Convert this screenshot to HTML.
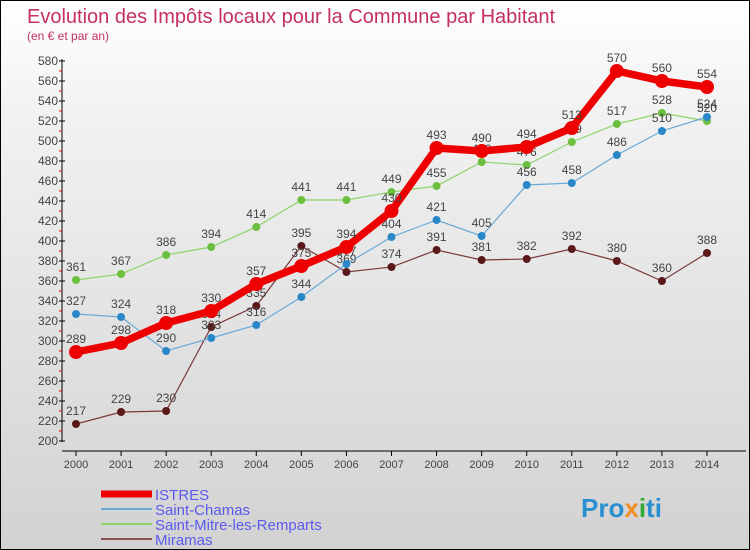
<!DOCTYPE html>
<html><head><meta charset="utf-8"><style>
body{margin:0}
#c{width:750px;height:550px;position:relative;box-sizing:border-box;border:1px solid #000;background:linear-gradient(#fff,#f2f2f2 20%,#d2d2d2);font-family:"Liberation Sans",sans-serif;overflow:hidden}
</style></head><body>
<div id="c">
<svg id="s" width="750" height="550" style="position:absolute;left:0;top:0">
<text x="26" y="22" font-size="20" fill="#c43060">Evolution des Impôts locaux pour la Commune par Habitant</text>
<text x="26" y="39" font-size="12" fill="#c43060">(en € et par an)</text>
<g id="axes"></g><g id="series"></g>
<text x="580" y="516" font-size="26" font-weight="bold" fill="#2a8fd0">Pro<tspan fill="#f09020">x</tspan><tspan fill="#3a3">i</tspan>ti</text>
</svg>
</div>
<script>
const years=[2000,2001,2002,2003,2004,2005,2006,2007,2008,2009,2010,2011,2012,2013,2014];
const istres=[289,298,318,330,357,375,394,430,493,490,494,513,570,560,554];
const chamas=[327,324,290,303,316,344,377,404,421,405,456,458,486,510,524];
const mitre=[361,367,386,394,414,441,441,449,455,479,476,499,517,528,520];
const miramas=[217,229,230,314,335,395,369,374,391,381,382,392,380,360,388];
const yTicks=[200,220,240,260,280,300,320,340,360,380,400,420,440,460,480,500,520,540,560,580];
const NS='http://www.w3.org/2000/svg';
const X=i=>75+i*(706-75)/(years.length-1);
const Y=v=>440-(v-200);
function mk(t,a,p){const e=document.createElementNS(NS,t);for(const k in a)e.setAttribute(k,a[k]);p.appendChild(e);return e;}
const ax=document.getElementById('axes');
let l=mk('line',{x1:61,y1:58,x2:61,y2:441,stroke:'#000','stroke-width':1},ax);


l=mk('line',{x1:61,y1:450,x2:745,y2:450,stroke:'#000','stroke-width':1},ax);


yTicks.forEach((v,k)=>{
 mk('line',{x1:58,y1:Y(v),x2:64,y2:Y(v),stroke:'#000'},ax);
 if(k<yTicks.length-1)mk('line',{x1:58,y1:Y(v+10),x2:61,y2:Y(v+10),stroke:'#e00'},ax);
 const t=mk('text',{x:57,y:Y(v)+4,'font-size':12,fill:'#444','text-anchor':'end'},ax);t.textContent=v;
 
 
});
years.forEach((y,i)=>{
 mk('line',{x1:X(i),y1:450,x2:X(i),y2:455,stroke:'#000'},ax);
 const t=mk('text',{x:X(i),y:467,'font-size':11,fill:'#444','text-anchor':'middle'},ax);t.textContent=y;
 
 
});
const sg=document.getElementById('series');
const series=[
 {n:'Miramas',d:miramas,c:'#7a3a3a',dot:'#5a1818',w:1.2,r:4},
 {n:'Saint-Mitre-les-Remparts',d:mitre,c:'#8ed36a',dot:'#6cc040',w:1.2,r:4},
 {n:'Saint-Chamas',d:chamas,c:'#6aaad8',dot:'#2a88c8',w:1.2,r:4},
 {n:'ISTRES',d:istres,c:'#ee0000',dot:'#ee0000',w:7.5,r:7}];
series.forEach(s=>{
 const p=mk('polyline',{points:s.d.map((v,i)=>X(i)+','+Y(v)).join(' '),fill:'none',stroke:s.c,'stroke-width':s.w},sg);
 
 
 s.d.forEach((v,i)=>{
  const c=mk('circle',{cx:X(i),cy:Y(v),r:s.r,fill:s.dot},sg);
  
  
  const t=mk('text',{x:X(i),y:Y(v)-9,'font-size':12,fill:'#444','text-anchor':'middle'},sg);t.textContent=v;
  
  
 });
});
const leg=[['ISTRES','#ee0000',7,493],['Saint-Chamas','#6aaad8',2,508],['Saint-Mitre-les-Remparts','#8ed36a',2,523],['Miramas','#8a5050',2,538]];
leg.forEach(e=>{
 const g=mk('g',{},sg);
 
 
 mk('line',{x1:100,y1:e[3],x2:151,y2:e[3],stroke:e[1],'stroke-width':e[2]},g);
 const t=mk('text',{x:154,y:e[3]+6,'font-size':15,fill:'#5a5aee'},g);t.textContent=e[0];
});
</script>
</body></html>
